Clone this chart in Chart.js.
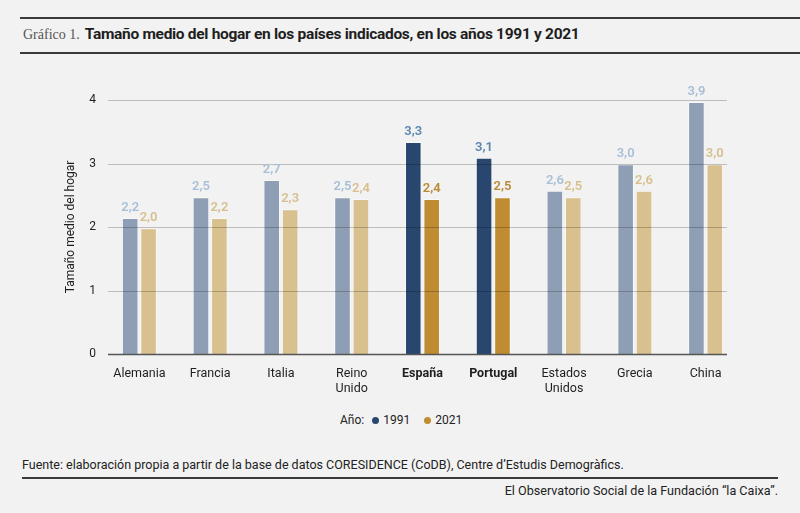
<!DOCTYPE html>
<html>
<head>
<meta charset="utf-8">
<script src="https://cdn.jsdelivr.net/npm/chart.js@4.4.1/dist/chart.umd.min.js"></script>
<style>
  html, body { margin: 0; padding: 0; background: #f2f2f2; }
  body { width: 800px; height: 513px; position: relative; overflow: hidden; font-family: Roboto, "Liberation Sans", sans-serif; color: #222; }
  .rule { position: absolute; height: 2px; background: #3a3a3a; }
  #title { position: absolute; left: 23px; top: 25px; font-size: 14px; white-space: nowrap; }
  #title .num { font-family: "Liberation Serif", "DejaVu Serif", serif; color: #555; font-size: 14px; margin-right: 5px; }
  #title b { display: inline-block; font-weight: bold; font-size: 15.5px; letter-spacing: -0.3px; color: #1e1e1e; }
  #chartBox { position: absolute; left: 0; top: 60px; width: 800px; height: 340px; }
  #legend { position: absolute; top: 413px; left: 340px; font-size: 12px; white-space: nowrap; }
  #legend .dot { display: inline-block; width: 7px; height: 7px; border-radius: 50%; margin: 0 4px 1px 8px; vertical-align: middle; }
  #source { position: absolute; left: 22px; top: 457px; font-size: 12.5px; white-space: nowrap; }
  #credit { position: absolute; right: 22px; top: 483px; font-size: 12.6px; white-space: nowrap; }
</style>
</head>
<body>
<div class="rule" style="left:20px; right:0; top:17px;"></div>
<div id="title"><span class="num">Gráfico 1.</span><b>Tamaño medio del hogar en los países indicados, en los años 1991 y 2021</b></div>
<div class="rule" style="left:20px; right:0; top:52px;"></div>

<div id="chartBox"><canvas id="hogarChart"></canvas></div>

<div id="legend">Año:<span class="dot" style="background:#29476e"></span>1991<span class="dot" style="background:#bf8c32; margin-left:14px"></span>2021</div>

<div id="source">Fuente: elaboración propia a partir de la base de datos CORESIDENCE (CoDB), Centre d’Estudis Demogràfics.</div>
<div class="rule" style="left:22px; right:22px; top:477px;"></div>
<div id="credit">El Observatorio Social de la Fundación “la Caixa”.</div>

<script>
const countries = ['Alemania', 'Francia', 'Italia', ['Reino', 'Unido'], 'España', 'Portugal', ['Estados', 'Unidos'], 'Grecia', 'China'];
const highlighted = [false, false, false, false, true, true, false, false, false];
const values1991 = [2.14, 2.47, 2.74, 2.47, 3.34, 3.09, 2.57, 2.99, 3.97];
const values2021 = [1.98, 2.14, 2.28, 2.44, 2.44, 2.47, 2.47, 2.57, 2.99];
const labels1991 = ['2,2', '2,5', '2,7', '2,5', '3,3', '3,1', '2,6', '3,0', '3,9'];
const labels2021 = ['2,0', '2,2', '2,3', '2,4', '2,4', '2,5', '2,5', '2,6', '3,0'];
const yTicks = [0, 1, 2, 3, 4];

const colors = {
    strong1991: '#29476e', dim1991: '#8e9fb5',
    strong2021: '#bf8c32', dim2021: '#d9c18f',
    text1991strong: '#5b87b3', text1991dim: '#a9bfd7',
    text2021strong: '#b98a38', text2021dim: '#d7bf8e'
};

// grid lines drawn over the bars, shorter than the category band
const gridPlugin = {
    id: 'grid',
    afterDatasetsDraw(chart) {
        const y = chart.scales.y;
        const c = chart.ctx;
        c.save();
        yTicks.forEach(v => {
            const py = Math.round(y.getPixelForValue(v)) + 0.5;
            c.beginPath();
            c.moveTo(108, py);
            c.lineTo(727, py);
            c.strokeStyle = v === 0 ? '#555' : 'rgba(0,0,0,0.22)';
            c.lineWidth = v === 0 ? 1.5 : 1;
            c.stroke();
        });
        c.restore();
    }
};

const valueLabels = {
    id: 'valueLabels',
    afterDatasetsDraw(chart) {
        const c = chart.ctx;
        c.save();
        c.font = '600 13px Roboto, sans-serif';
        c.textAlign = 'center';
        c.textBaseline = 'bottom';
        chart.data.datasets.forEach((ds, di) => {
            const texts = di === 0 ? labels1991 : labels2021;
            chart.getDatasetMeta(di).data.forEach((bar, i) => {
                if (di === 0) c.fillStyle = highlighted[i] ? colors.text1991strong : colors.text1991dim;
                else c.fillStyle = highlighted[i] ? colors.text2021strong : colors.text2021dim;
                c.fillText(texts[i], bar.x, bar.y - 4);
            });
        });
        c.restore();
    }
};

new Chart(document.getElementById('hogarChart'), {
    type: 'bar',
    data: {
        labels: countries,
        datasets: [{
            label: '1991',
            data: values1991,
            backgroundColor: highlighted.map(h => h ? colors.strong1991 : colors.dim1991),
            borderColor: 'rgba(255,255,255,0.45)',
            borderWidth: 1,
            categoryPercentage: 0.52,
            barPercentage: 0.9
        }, {
            label: '2021',
            data: values2021,
            backgroundColor: highlighted.map(h => h ? colors.strong2021 : colors.dim2021),
            borderColor: 'rgba(255,255,255,0.45)',
            borderWidth: 1,
            categoryPercentage: 0.52,
            barPercentage: 0.9
        }]
    },
    options: {
        responsive: true,
        maintainAspectRatio: false,
        animation: false,
        layout: { padding: { top: 40, right: 59, left: 0, bottom: 0 } },
        plugins: {
            legend: { display: false },
            tooltip: { enabled: false }
        },
        scales: {
            x: {
                grid: { display: false, drawTicks: false },
                border: { display: false },
                ticks: {
                    color: '#1e1e1e',
                    padding: 13,
                    maxRotation: 0,
                    autoSkip: false,
                    font: (ctx) => ({
                        family: 'Roboto, sans-serif',
                        size: 12.5,
                        lineHeight: 1.15,
                        weight: highlighted[ctx.index] ? 'bold' : 'normal'
                    })
                },
                afterFit(scale) { scale.height = 46; }
            },
            y: {
                min: 0,
                max: 4,
                grid: { display: false, drawTicks: false },
                border: { display: false },
                afterBuildTicks(scale) { scale.ticks = yTicks.map(v => ({ value: v })); },
                ticks: {
                    color: '#1e1e1e',
                    padding: 8,
                    font: { family: 'Roboto, sans-serif', size: 12 }
                },
                title: {
                    display: true,
                    text: 'Tamaño medio del hogar',
                    color: '#1e1e1e',
                    font: { family: 'Roboto, sans-serif', size: 12 },
                    padding: { top: 64, bottom: 0 }
                },
                afterFit(scale) { scale.width = 104; }
            }
        }
    },
    plugins: [gridPlugin, valueLabels]
});
</script>
</body>
</html>
